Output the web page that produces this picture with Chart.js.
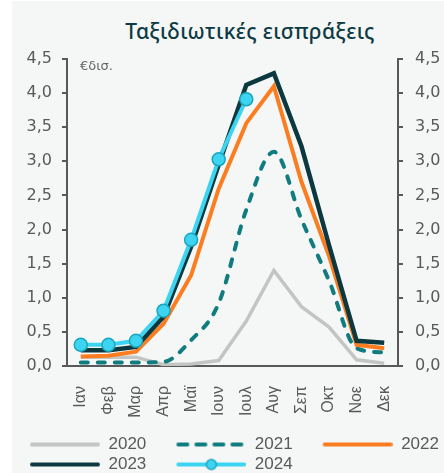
<!DOCTYPE html>
<html>
<head>
<meta charset="utf-8">
<script src="https://cdn.jsdelivr.net/npm/chart.js@4.4.1/dist/chart.umd.min.js"></script>
<style>
    html, body { margin: 0; padding: 0; background: #fff; overflow: hidden; }
    #wrap { position: relative; width: 444px; height: 473px; overflow: hidden; }
    #bg { position: absolute; left: 12px; top: 1px; right: 0; bottom: 0; background: #f5f7f7; }
    #title { position: absolute; left: 0; top: 18px; width: 500px; text-align: center;
             font: 500 21px 'Noto Sans'; letter-spacing: 0.4px; line-height: 27px; color: #0e3b43; }
    #chart { position: absolute; left: 0; top: 0; }
</style>
</head>
<body>
<div id="wrap">
    <div id="bg"></div>
    <div id="title">Ταξιδιωτικές εισπράξεις</div>
    <canvas id="chart" width="444" height="483"></canvas>
</div>
<script>
// months and yearly series, € billions
const months = ['Ιαν', 'Φεβ', 'Μαρ', 'Απρ', 'Μαϊ', 'Ιουν', 'Ιουλ', 'Αυγ', 'Σεπ', 'Οκτ', 'Νοε', 'Δεκ'];
const years = ['2020', '2021', '2022', '2023', '2024'];
const y2020 = [0.13, 0.13, 0.13, 0.02, 0.03, 0.08, 0.66, 1.40, 0.87, 0.57, 0.09, 0.04];
const y2021 = [0.05, 0.05, 0.05, 0.06, 0.38, 0.92, 2.29, 3.14, 2.15, 1.25, 0.26, 0.20];
const y2022 = [0.14, 0.15, 0.21, 0.62, 1.33, 2.60, 3.56, 4.10, 2.70, 1.61, 0.31, 0.26];
const y2023 = [0.23, 0.23, 0.28, 0.72, 1.75, 2.95, 4.12, 4.29, 3.22, 1.77, 0.37, 0.34];
const y2024 = [0.31, 0.31, 0.37, 0.81, 1.85, 3.03, 3.91, null, null, null, null, null];
const yMin = 0, yMax = 4.5, yStep = 0.5;
const unitText = '€δισ.';

const axisGrey = '#595959';
const textGrey = '#595959';

// little canvases used as legend samples (line, dashed line, line + marker)
function legendSample(color, dash, marker) {
    const c = document.createElement('canvas');
    c.width = 97;
    c.height = 14;
    const g = c.getContext('2d');
    g.strokeStyle = color;
    g.lineWidth = 4;
    g.lineCap = 'round';
    if (dash) g.setLineDash(dash);
    g.beginPath();
    g.moveTo(29, 7);
    g.lineTo(95, 7);
    g.stroke();
    if (marker) {
        g.setLineDash([]);
        g.beginPath();
        g.arc(62, 7, 5, 0, Math.PI * 2);
        g.fillStyle = color;
        g.fill();
        g.lineWidth = 1.5;
        g.strokeStyle = marker;
        g.stroke();
    }
    return c;
}

const samples = [
    legendSample('#c3c5c3'),
    legendSample('#107c80', [9, 9]),
    legendSample('#fb7d20'),
    legendSample('#0b393f'),
    legendSample('#3dd4f2', null, '#1ba5bd')
];

const unitLabel = {
    id: 'unitLabel',
    afterDraw(chart) {
        const { ctx, chartArea } = chart;
        ctx.save();
        ctx.font = '13px "DejaVu Sans"';
        ctx.fillStyle = '#666';
        ctx.textBaseline = 'middle';
        ctx.fillText(unitText, chartArea.left + 13, chartArea.top + 8);
        ctx.restore();
    }
};

function yAxis(position, padding, width) {
    return {
        position: position,
        min: yMin,
        max: yMax,
        ticks: {
            stepSize: yStep,
            padding: padding,
            color: textGrey,
            font: { family: 'DejaVu Sans', size: 16 },
            callback: v => v.toFixed(1).replace('.', ',')
        },
        grid: { drawOnChartArea: false, tickLength: 5, color: axisGrey, lineWidth: 2 },
        border: { color: axisGrey, width: 2 },
        afterFit(scale) { scale.width = width; }
    };
}

new Chart(document.getElementById('chart').getContext('2d'), {
    type: 'line',
    data: {
        labels: months,
        datasets: [
            { label: years[0], data: y2020, borderColor: '#c3c5c3', borderWidth: 3.5, pointRadius: 0, order: 4 },
            { label: years[1], data: y2021, borderColor: '#107c80', borderWidth: 4, borderDash: [7, 10],
              borderCapStyle: 'round', cubicInterpolationMode: 'monotone', pointRadius: 0, order: 3 },
            { label: years[2], data: y2022, borderColor: '#fb7d20', borderWidth: 4, pointRadius: 0, order: 2 },
            { label: years[3], data: y2023, borderColor: '#0b393f', borderWidth: 4.5, pointRadius: 0, order: 1 },
            { label: years[4], data: y2024, borderColor: '#3dd4f2', borderWidth: 4, pointRadius: 6.5,
              pointBackgroundColor: '#3dd4f2', pointBorderColor: '#1ba5bd', pointBorderWidth: 1.5, order: 0 }
        ]
    },
    options: {
        responsive: false,
        animation: false,
        layout: { padding: { top: 59, left: 0, right: 0, bottom: 0 } },
        plugins: {
            tooltip: { enabled: false },
            legend: {
                position: 'bottom',
                align: 'start',
                labels: {
                    usePointStyle: true,
                    pointStyleWidth: 97,
                    padding: 3,
                    color: textGrey,
                    font: { family: 'Liberation Sans', size: 17 },
                    generateLabels(chart) {
                        return chart.data.datasets.map((ds, i) => ({
                            text: ds.label,
                            pointStyle: samples[i],
                            datasetIndex: i,
                            hidden: false,
                            fillStyle: 'transparent',
                            strokeStyle: 'transparent',
                            lineWidth: 0,
                            fontColor: textGrey
                        }));
                    }
                }
            }
        },
        scales: {
            x: {
                offset: true,
                grid: { display: false },
                border: { display: true, color: axisGrey, width: 2 },
                ticks: {
                    autoSkip: false,
                    minRotation: 90,
                    maxRotation: 90,
                    padding: 12,
                    color: textGrey,
                    font: { family: 'Liberation Sans', size: 16 }
                },
                afterFit(scale) { scale.height = 67; }
            },
            y: yAxis('left', 10, 67),
            y2: yAxis('right', 12, 46)
        }
    },
    plugins: [unitLabel]
});
</script>
</body>
</html>
